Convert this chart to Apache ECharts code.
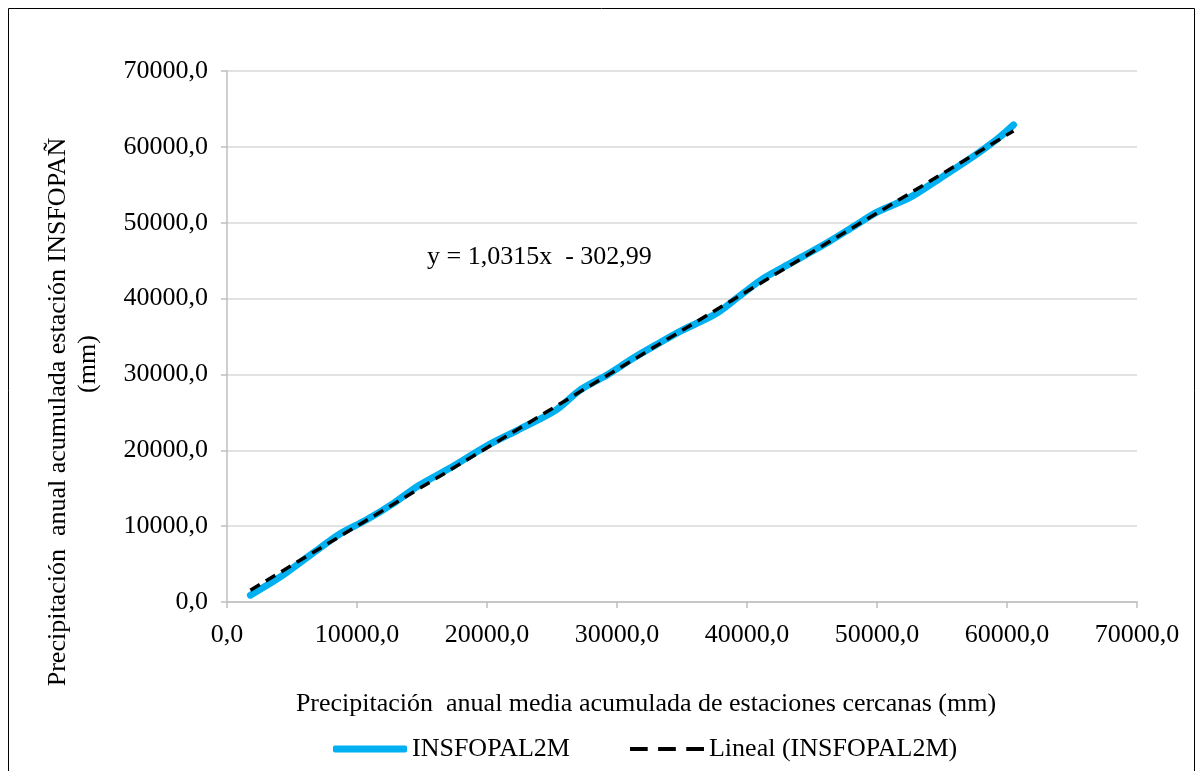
<!DOCTYPE html>
<html><head><meta charset="utf-8">
<script src="https://cdn.jsdelivr.net/npm/echarts@6/dist/echarts.min.js"></script>
<style>html,body{margin:0;padding:0;background:#fff}#c{width:1199px;height:771px}</style>
</head><body><div id="c"></div>
<script>
// Cumulative precipitation: nearby stations mean (x) vs station INSFOPAÑ (y), mm
const xCum = [1800, 4100, 6500, 8700, 10700, 12800, 14700, 17200, 20000, 22300, 25300, 27200, 29300, 31200, 33000, 35000, 37600, 39400, 41200, 43500, 46300, 48200, 50000, 52500, 54800, 57300, 59300, 60500];
const yCum = [900, 3300, 6300, 9000, 10800, 13000, 15300, 17700, 20600, 22600, 25300, 28000, 30000, 32100, 33900, 35800, 38000, 40300, 42600, 44800, 47500, 49500, 51400, 53300, 55800, 58600, 61100, 62900];
// Displayed linear trend: y = 1,0315x - 302,99
const trendSlope = 1.0315;
const trendIntercept = -302.99;
const axisTicks = [0, 10000, 20000, 30000, 40000, 50000, 60000, 70000];

const mainData = xCum.map((x, i) => [x, yCum[i]]);
const xMin = xCum[0], xMax = xCum[xCum.length - 1];
const trendData = [[xMin, trendSlope * xMin + trendIntercept], [xMax, trendSlope * xMax + trendIntercept]];
const fmt = v => v.toFixed(1).replace('.', ',');
const FONT = '"Liberation Serif", "Times New Roman", serif';
const FS = 26;

const chart = echarts.init(document.getElementById('c'), null, {renderer: 'canvas'});
chart.setOption({
  backgroundColor: '#fff',
  animation: false,
  textStyle: {fontFamily: FONT},
  grid: {left: 227, right: 62, top: 71, bottom: 169, containLabel: false},
  xAxis: {
    type: 'value', min: axisTicks[0], max: axisTicks[axisTicks.length - 1], interval: 10000,
    axisLine: {show: true, lineStyle: {color: '#bfbfbf', width: 1.5}},
    axisTick: {show: true, length: 6, lineStyle: {color: '#bfbfbf', width: 1.5}},
    splitLine: {show: false},
    axisLabel: {formatter: fmt, color: '#000', fontSize: FS, fontFamily: FONT, margin: 20}
  },
  yAxis: {
    type: 'value', min: axisTicks[0], max: axisTicks[axisTicks.length - 1], interval: 10000,
    axisLine: {show: true, lineStyle: {color: '#bfbfbf', width: 1.5}},
    axisTick: {show: true, length: 6, lineStyle: {color: '#bfbfbf', width: 1.5}},
    splitLine: {show: true, lineStyle: {color: '#d9d9d9', width: 1.5}},
    axisLabel: {formatter: fmt, color: '#000', fontSize: FS, fontFamily: FONT, margin: 19}
  },
  legend: {
    left: 328, top: 731, itemGap: 60, itemWidth: 74, itemHeight: 7,
    textStyle: {color: '#000', fontSize: FS, fontFamily: FONT, padding: [0, 0, 0, 0]},
    data: [
      {name: 'INSFOPAL2M', icon: 'roundRect', itemStyle: {color: '#00b0f0'}},
      {name: 'Lineal (INSFOPAL2M)', icon: 'path://M0,0h17v4h-17z M27,0h17v4h-17z M54,0h17v4h-17z', itemStyle: {color: '#000'}}
    ]
  },
  series: [
    {
      name: 'INSFOPAL2M', type: 'line', data: mainData, smooth: 0.3, showSymbol: false, symbol: 'none',
      lineStyle: {color: '#00b0f0', width: 7, cap: 'round', join: 'round'}, itemStyle: {color: '#00b0f0'}, z: 2
    },
    {
      name: 'Lineal (INSFOPAL2M)', type: 'line', data: trendData, showSymbol: false, symbol: 'none',
      lineStyle: {color: '#000', width: 3.5, type: [11, 7]}, itemStyle: {color: '#000'}, z: 3
    }
  ],
  graphic: [
    {type: 'rect', shape: {x: 8.5, y: 8.5, width: 1186, height: 770}, style: {fill: 'none', stroke: '#000', lineWidth: 1}, silent: true},
    {type: 'text', x: 427, y: 257, style: {text: 'y = 1,0315x  - 302,99', font: FS + 'px ' + FONT, fill: '#000', verticalAlign: 'middle'}},
    {type: 'text', x: 646, y: 704, style: {text: 'Precipitación  anual media acumulada de estaciones cercanas (mm)', font: FS + 'px ' + FONT, fill: '#000', align: 'center', verticalAlign: 'middle'}},
    {type: 'text', x: 58, y: 412, rotation: Math.PI / 2, style: {text: 'Precipitación  anual acumulada estación INSFOPAÑ', font: FS + 'px ' + FONT, fill: '#000', align: 'center', verticalAlign: 'middle'}},
    {type: 'text', x: 88, y: 364, rotation: Math.PI / 2, style: {text: '(mm)', font: FS + 'px ' + FONT, fill: '#000', align: 'center', verticalAlign: 'middle'}}
  ]
});
</script></body></html>
